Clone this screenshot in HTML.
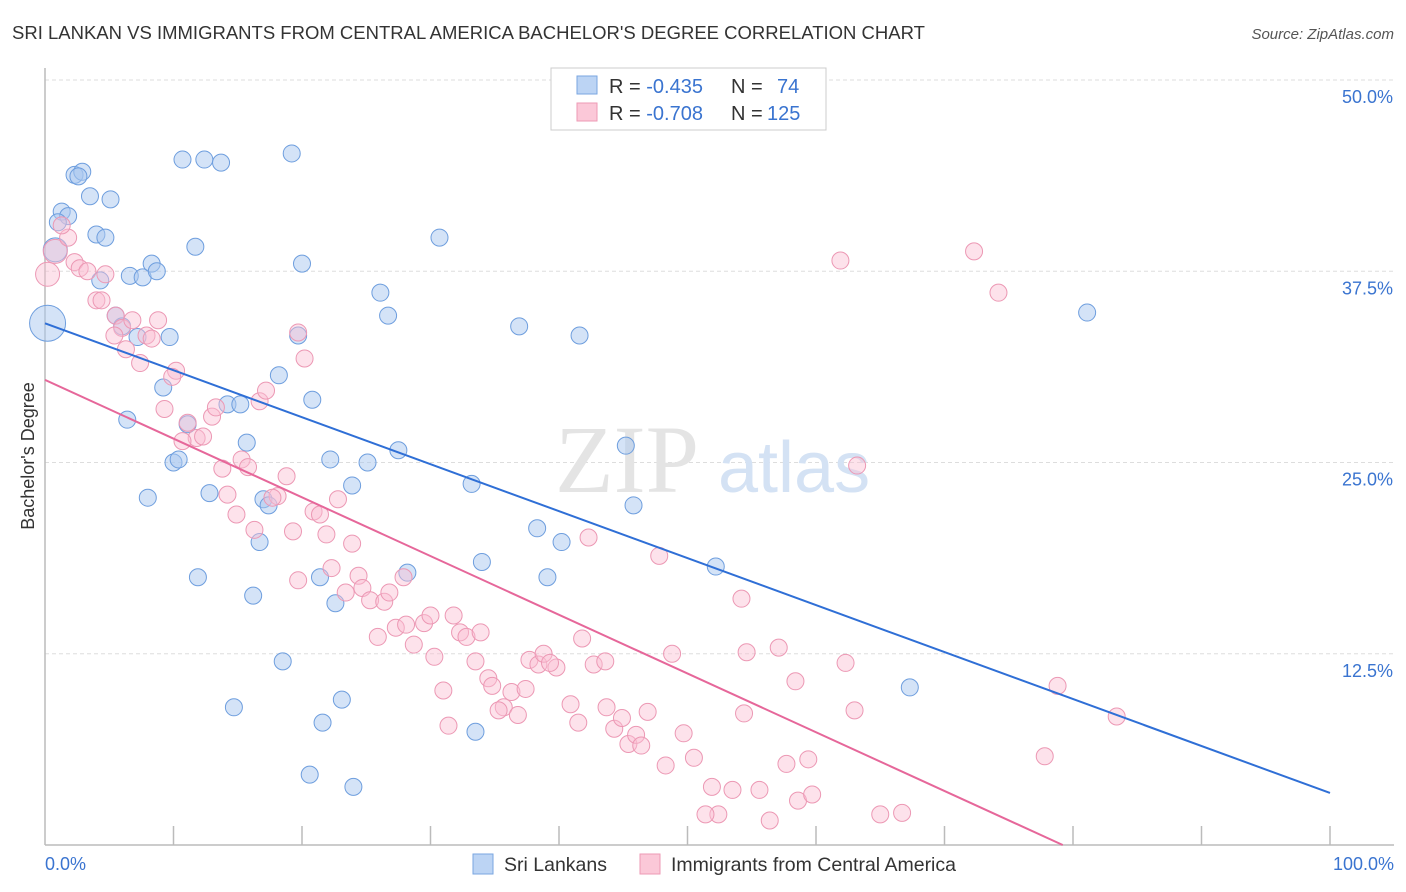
<!DOCTYPE html>
<html><head><meta charset="utf-8"><style>
body{margin:0;background:#fff;font-family:"Liberation Sans",sans-serif}
svg{display:block}
</style></head><body>
<svg width="1406" height="892" xmlns="http://www.w3.org/2000/svg">
<text x="12" y="39" font-size="18.5" fill="#333">SRI LANKAN VS IMMIGRANTS FROM CENTRAL AMERICA BACHELOR'S DEGREE CORRELATION CHART</text>
<text x="1394" y="39" font-size="15" fill="#555" font-style="italic" text-anchor="end">Source: ZipAtlas.com</text>
<g id="grid"></g>
<text x="555" y="492" font-size="96" fill="#e4e4e4" font-family="Liberation Serif">ZIP</text>
<text x="718" y="492" font-size="72" fill="#d4e2f4">atlas</text>
<g id="axes"></g>
<g id="pts"></g>
<g id="trends"></g>
<text transform="translate(34,456) rotate(-90)" font-size="18" fill="#333" text-anchor="middle">Bachelor's Degree</text>
<text x="45" y="870" font-size="18" fill="#3a74d0">0.0%</text>
<text x="1394" y="870" font-size="18" fill="#3a74d0" text-anchor="end">100.0%</text>
<g>
<rect x="551" y="68" width="275" height="62" fill="#fff" stroke="#ccc"/>
<rect x="577" y="76" width="20" height="18" fill="#bcd4f4" stroke="#7aa6e0"/>
<rect x="577" y="103" width="20" height="18" fill="#fbc8d8" stroke="#ee9ab5"/>
<text x="609" y="93" font-size="20" fill="#333">R = <tspan fill="#3a74d0">-0.435</tspan><tspan x="731">N = </tspan><tspan x="777" fill="#3a74d0">74</tspan></text>
<text x="609" y="120" font-size="20" fill="#333">R = <tspan fill="#3a74d0">-0.708</tspan><tspan x="731">N = </tspan><tspan x="767" fill="#3a74d0">125</tspan></text>
</g>
<g>
<rect x="473" y="854" width="20" height="20" fill="#bcd4f4" stroke="#7aa6e0"/>
<text x="504" y="871" font-size="19.5" fill="#333">Sri Lankans</text>
<rect x="640" y="854" width="20" height="20" fill="#fbc8d8" stroke="#ee9ab5"/>
<text x="671" y="871" font-size="19.5" fill="#333">Immigrants from Central America</text>
</g>
</svg>
<script>
const yTicks=[12.5,25,37.5,50];
const yTickLabels=["12.5%","25.0%","37.5%","50.0%"];
const xTicks=[10,20,30,40,50,60,70,80,90,100];
const blueX=[0.2,0.8,1.3,1.8,1.0,2.3,2.9,2.6,3.5,5.1,4.0,4.7,4.3,6.6,7.6,8.3,8.7,5.5,6.0,7.2,9.7,10.7,12.4,13.7,19.2,11.7,20.0,9.2,6.4,11.1,10.0,10.4,14.2,15.2,15.7,18.2,20.8,19.7,26.1,26.7,30.7,36.9,41.6,81.1,8.0,12.8,17.0,17.4,16.7,22.2,25.1,23.9,27.5,33.2,45.2,45.8,38.3,40.2,34.0,39.1,52.2,28.2,21.4,22.6,11.9,16.2,18.5,23.1,21.6,14.7,67.3,33.5,20.6,24.0];
const blueY=[34.1,38.9,41.4,41.1,40.7,43.8,44.0,43.7,42.4,42.2,39.9,39.7,36.9,37.2,37.1,38.0,37.5,34.6,33.9,33.2,33.2,44.8,44.8,44.6,45.2,39.1,38.0,29.9,27.8,27.5,25.0,25.2,28.8,28.8,26.3,30.7,29.1,33.3,36.1,34.6,39.7,33.9,33.3,34.8,22.7,23.0,22.6,22.2,19.8,25.2,25.0,23.5,25.8,23.6,26.1,22.2,20.7,19.8,18.5,17.5,18.2,17.8,17.5,15.8,17.5,16.3,12.0,9.5,8.0,9.0,10.3,7.4,4.6,3.8];
const pinkX=[0.2,0.8,1.8,1.3,2.3,2.7,3.3,4.7,4.0,4.4,5.5,6.0,5.4,6.8,7.9,8.3,8.8,6.3,7.4,10.2,9.9,9.3,11.1,11.8,12.3,10.7,13.0,13.3,13.8,15.3,15.8,14.2,14.9,16.3,16.7,17.2,20.2,19.7,18.8,18.1,17.7,19.3,20.9,21.4,21.9,22.8,23.9,19.7,22.3,23.4,24.4,24.7,25.3,26.4,26.8,27.9,25.9,27.3,28.1,28.7,29.5,30.0,31.8,30.3,32.3,32.8,33.9,33.5,34.5,34.8,35.7,35.3,36.8,36.3,37.4,31.0,31.4,37.7,38.4,38.8,39.8,39.3,42.3,41.8,42.7,43.6,40.9,41.5,43.7,44.3,44.9,45.4,46.0,46.4,46.9,47.8,48.8,49.7,50.5,48.3,51.9,52.4,51.4,53.5,54.2,54.4,54.6,55.6,56.4,57.7,58.6,59.7,59.4,57.1,58.4,62.3,63.0,63.2,61.9,72.3,74.2,65.0,66.7,77.8,78.8,83.4];
const pinkY=[37.3,38.8,39.7,40.5,38.1,37.7,37.5,37.3,35.6,35.6,34.6,33.8,33.3,34.3,33.3,33.1,34.3,32.4,31.5,31.0,30.6,28.5,27.6,26.6,26.7,26.4,28.0,28.6,24.6,25.2,24.7,22.9,21.6,20.6,29.0,29.7,31.8,33.5,24.1,22.8,22.7,20.5,21.8,21.6,20.3,22.6,19.7,17.3,18.1,16.5,17.6,16.8,16.0,15.9,16.5,17.5,13.6,14.2,14.4,13.1,14.5,15.0,15.0,12.3,13.9,13.6,13.9,12.0,10.9,10.4,9.0,8.8,8.5,10.0,10.2,10.1,7.8,12.1,11.8,12.5,11.6,11.9,20.1,13.5,11.8,12.0,9.2,8.0,9.0,7.6,8.3,6.6,7.2,6.5,8.7,18.9,12.5,7.3,5.7,5.2,3.8,2.0,2.0,3.6,16.1,8.6,12.6,3.6,1.6,5.3,2.9,3.3,5.6,12.9,10.7,11.9,8.8,24.8,38.2,38.8,36.1,2.0,2.1,5.8,10.4,8.4];
const blueTrend=[[0,34.1],[100,3.4]];
const pinkTrend=[[0,30.4],[79.2,0]];
const NS="http://www.w3.org/2000/svg";
function xs(p){return 45+p*12.85;}
function ys(v){return 845-v*15.3;}
function mk(tag,attrs,parent){const e=document.createElementNS(NS,tag);for(const k in attrs)e.setAttribute(k,attrs[k]);parent.appendChild(e);return e;}
const grid=document.getElementById('grid'),axes=document.getElementById('axes'),pts=document.getElementById('pts'),tr=document.getElementById('trends');
yTicks.forEach((t,i)=>{
 const l=mk('line',{x1:45,x2:1394,y1:ys(t),y2:ys(t),stroke:'#ddd','stroke-dasharray':'4,3'},grid);
 
 
 const tx=mk('text',{x:1393,y:ys(t)+23,'font-size':18,fill:'#3a74d0','text-anchor':'end'},grid);
 tx.textContent=yTickLabels[i];
 
 
});
const ya=mk('line',{x1:45,x2:45,y1:68,y2:845,stroke:'#bbb','stroke-width':1.5},axes);


const xa=mk('line',{x1:45,x2:1394,y1:845,y2:845,stroke:'#bbb','stroke-width':1.5},axes);


xTicks.forEach(t=>{
 const l=mk('line',{x1:xs(t),x2:xs(t),y1:826,y2:845,stroke:'#bbb','stroke-width':1.5},axes);
 
 
});
function rad(i,big){return i===0?(big?18:12):(i===1?12:8.5);}
blueX.forEach((x,i)=>{
 const c=mk('circle',{cx:xs(x),cy:ys(blueY[i]),r:rad(i,true),fill:'rgba(170,200,240,0.5)',stroke:'#6e9ede','stroke-width':1},pts);
 
 
});
pinkX.forEach((x,i)=>{
 const c=mk('circle',{cx:xs(x),cy:ys(pinkY[i]),r:rad(i,false),fill:'rgba(250,190,210,0.45)',stroke:'#ec98b4','stroke-width':1},pts);
 
 
});
const bl=mk('line',{x1:xs(blueTrend[0][0]),y1:ys(blueTrend[0][1]),x2:xs(blueTrend[1][0]),y2:ys(blueTrend[1][1]),stroke:'#2f6fd6','stroke-width':2},tr);


const pl=mk('line',{x1:xs(pinkTrend[0][0]),y1:ys(pinkTrend[0][1]),x2:xs(pinkTrend[1][0]),y2:ys(pinkTrend[1][1]),stroke:'#e6679a','stroke-width':2},tr);


</script>
</body></html>
